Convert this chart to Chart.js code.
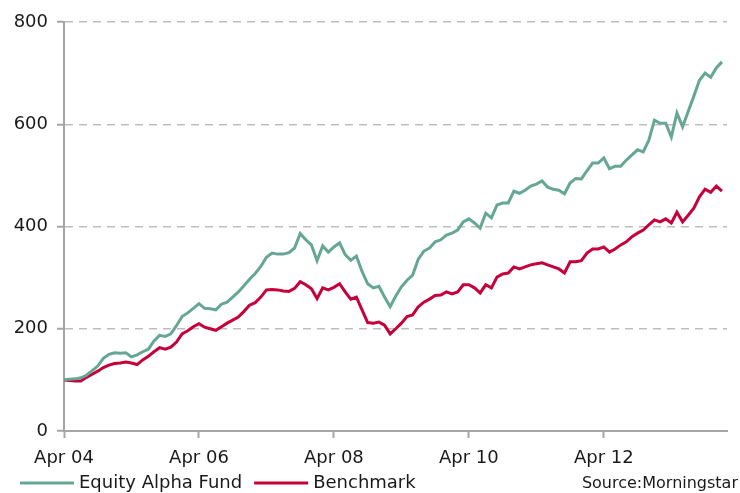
<!DOCTYPE html>
<html>
<head>
<meta charset="utf-8">
<script src="https://cdn.jsdelivr.net/npm/chart.js@4"></script>
<style>
  html, body { margin: 0; padding: 0; background: #fff; }
  #wrap { width: 740px; height: 493px; }
</style>
</head>
<body>
<div id="wrap"><canvas id="grafico"></canvas></div>
<script>
// Valores mensuales desde Apr 04 (índice 0) hasta Jan 14
const fondo = [
  100, 101, 102, 104, 109, 118, 127, 142, 150, 153,
  152, 153, 145, 149, 155, 160, 176, 187, 185, 190,
  206, 224, 231, 240, 249, 240, 239, 237, 248, 252,
  262, 272, 284, 297, 308, 322, 340, 348, 346, 346,
  349, 358, 386, 374, 364, 333, 362, 350, 360, 368,
  345, 334, 342, 312, 288, 280, 283, 262, 243, 264,
  282, 295, 305, 336, 352, 358, 370, 374, 383, 387,
  393, 409, 415, 407, 397, 426, 417, 442, 446, 446,
  469, 465, 471, 479, 483, 489, 477, 473, 471, 464,
  485, 494, 493, 509, 524, 524, 534, 513, 518, 518,
  530, 540, 550, 546, 569, 608, 602, 602, 575, 622,
  595, 625, 655, 686, 700, 692, 710, 722
];
const benchmark = [
  100, 99, 98, 98, 105, 111, 117, 124, 129, 132,
  133, 135, 133, 130, 139, 146, 155, 163, 160, 164,
  174, 190, 196, 204, 210, 203, 200, 197, 204, 211,
  217, 223, 234, 246, 251, 262, 276, 277, 276, 274,
  273, 279, 292, 286, 278, 259, 280, 276, 281, 288,
  272, 258, 262, 237, 212, 211, 213, 207, 190, 200,
  211, 224, 227, 243, 252, 258, 265, 266, 272, 268,
  272, 286, 286, 280, 270, 286, 280, 301, 307, 309,
  321, 317, 321, 325, 327, 329, 325, 321, 317, 309,
  331, 331, 333, 348, 356, 356, 360, 350, 356, 364,
  370, 380, 387, 393, 403, 413, 409, 415, 407, 428,
  409, 422, 436, 458, 473, 467, 479, 469
];

// Etiquetas del eje X (cada 24 meses)
const tickMeses = [0, 24, 48, 72, 96];
const tickEtiquetas = ['Apr 04', 'Apr 06', 'Apr 08', 'Apr 10', 'Apr 12'];
const yTicks = [0, 200, 400, 600, 800];
const nombres = ['Equity Alpha Fund', 'Benchmark'];
const fuenteTexto = 'Source:Morningstar';

const colorFondo = '#66A695';
const colorBench = '#C5003B';
const colorEje = '#A6A6A6';
const colorTexto = '#1a1a1a';
const FUENTE = '"DejaVu Sans", Verdana, sans-serif';

// Leyenda y fuente dibujadas abajo
const leyenda = {
    id: 'leyenda',
    afterDraw(chart) {
        const ctx = chart.ctx;
        ctx.save();
        ctx.textBaseline = 'middle';
        ctx.font = '18px ' + FUENTE;
        const y = 483;
        let x = 20;
        chart.data.datasets.forEach(ds => {
            ctx.strokeStyle = ds.borderColor;
            ctx.lineWidth = 3;
            ctx.beginPath();
            ctx.moveTo(x, y);
            ctx.lineTo(x + 54, y);
            ctx.stroke();
            ctx.fillStyle = colorTexto;
            ctx.fillText(ds.label, x + 59, y);
            x += 59 + ctx.measureText(ds.label).width + 12;
        });
        ctx.font = '16px ' + FUENTE;
        ctx.textAlign = 'right';
        ctx.fillText(fuenteTexto, 738, y + 1);
        ctx.restore();
    }
};

const xMax = 117.9;

new Chart(document.getElementById('grafico'), {
    type: 'line',
    data: {
        datasets: [
            {
                label: nombres[0],
                data: fondo.map((v, i) => ({ x: i, y: v })),
                borderColor: colorFondo,
                borderWidth: 3,
                pointRadius: 0,
                tension: 0
            },
            {
                label: nombres[1],
                data: benchmark.map((v, i) => ({ x: i, y: v })),
                borderColor: colorBench,
                borderWidth: 3,
                pointRadius: 0,
                tension: 0
            }
        ]
    },
    options: {
        responsive: true,
        maintainAspectRatio: false,
        animation: false,
        layout: {
            padding: { top: 22, right: 13, bottom: 22, left: 0 }
        },
        plugins: {
            legend: { display: false },
            tooltip: { enabled: false }
        },
        scales: {
            x: {
                type: 'linear',
                min: 0,
                max: xMax,
                afterBuildTicks: s => { s.ticks = tickMeses.map(v => ({ value: v })); },
                afterFit: s => { s.height = 40; },
                grid: {
                    drawOnChartArea: false,
                    tickLength: 7,
                    tickColor: colorEje,
                    tickWidth: 2
                },
                border: { color: colorEje, width: 2 },
                ticks: {
                    padding: 10,
                    maxRotation: 0,
                    autoSkip: false,
                    color: colorTexto,
                    font: { family: FUENTE, size: 18 },
                    callback: v => tickEtiquetas[tickMeses.indexOf(v)]
                }
            },
            y: {
                min: 0,
                max: 800,
                afterBuildTicks: s => { s.ticks = yTicks.map(v => ({ value: v })); },
                afterFit: s => { s.width = 64; },
                grid: {
                    color: ctx => ctx.tick && ctx.tick.value === 0 ? 'rgba(0,0,0,0)' : '#BDBDBD',
                    lineWidth: 1.5,
                    tickLength: 7,
                    tickColor: colorEje,
                    tickWidth: 2
                },
                border: { color: colorEje, width: 2, dash: [8, 6] },
                ticks: {
                    padding: 9,
                    color: colorTexto,
                    font: { family: FUENTE, size: 18 }
                }
            }
        }
    },
    plugins: [leyenda]
});
</script>
</body>
</html>
